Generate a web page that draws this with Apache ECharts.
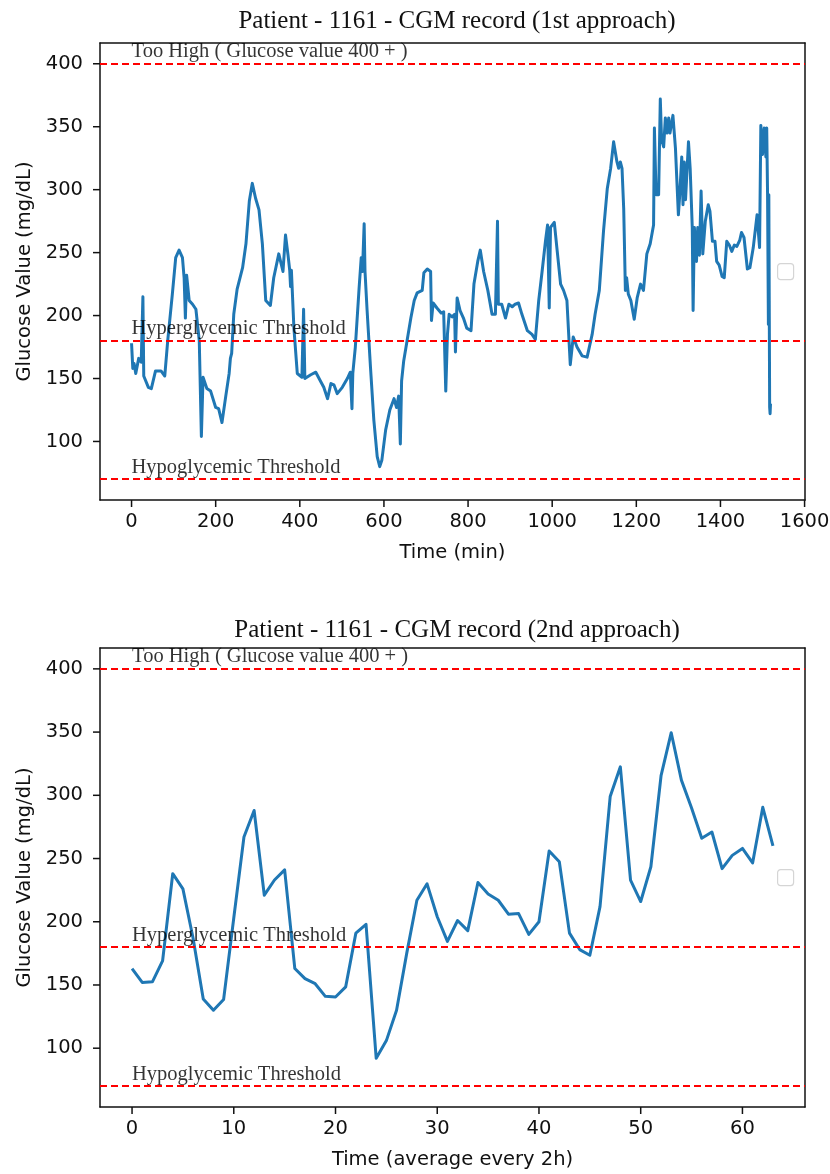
<!DOCTYPE html>
<html>
<head>
<meta charset="utf-8">
<script src="https://cdn.jsdelivr.net/npm/echarts@6/dist/echarts.min.js"></script>
<style>
  html, body { margin: 0; padding: 0; background: #fff; }
  #chart { width: 830px; height: 1174px; }
</style>
</head>
<body>
<div id="chart"></div>
<script>
// 1st approach: raw CGM readings (time in minutes)
const cgmTime = [
  0, 3, 6, 10, 17, 23, 27, 29, 40, 47, 57, 70, 79, 86, 97, 105, 113, 121, 125, 128,
  131, 137, 145, 153, 161, 166, 170, 179, 188, 200, 207, 215, 224, 232, 235, 238, 243, 251, 264, 272,
  280, 287, 295, 303, 311, 319, 330, 338, 350, 360, 366, 372, 376, 378, 380, 386, 394, 405, 409, 412,
  426, 438, 449, 457, 466, 474, 481, 489, 501, 513, 520, 524, 526, 532, 541, 546, 549, 553, 555, 560,
  568, 576, 584, 590, 595, 604, 614, 624, 630, 635, 639, 642, 647, 655, 664, 672, 679, 691, 695, 703,
  711, 713, 717, 726, 736, 742, 747, 751, 755, 762, 768, 770, 774, 781, 789, 797, 807, 814, 818, 823,
  829, 837, 847, 857, 865, 870, 872, 880, 889, 897, 905, 912, 920, 928, 941, 952, 960, 968, 976, 984,
  989, 993, 996, 1005, 1012, 1020, 1027, 1035, 1043, 1050, 1059, 1071, 1083, 1095, 1102, 1112, 1122, 1131, 1139, 1146,
  1154, 1158, 1162, 1166, 1170, 1174, 1177, 1181, 1187, 1195, 1202, 1210, 1217, 1225, 1233, 1241, 1243, 1247, 1253, 1257,
  1260, 1265, 1269, 1273, 1277, 1280, 1287, 1293, 1300, 1303, 1308, 1311, 1314, 1317, 1324, 1328, 1333, 1335, 1338, 1343,
  1346, 1350, 1354, 1358, 1364, 1371, 1375, 1381, 1387, 1391, 1397, 1404, 1409, 1415, 1421, 1427, 1433, 1439, 1446, 1450,
  1456, 1464, 1470, 1478, 1487, 1490, 1493, 1496, 1500, 1504, 1508, 1510, 1512, 1514, 1515, 1517, 1518, 1519
];
const cgmGlucose = [
  178, 158, 162, 154, 166, 163, 215, 152, 143, 142, 156, 156, 152, 180, 217, 246, 252, 246, 230, 198,
  232, 212, 209, 205, 180, 104, 151, 142, 140, 127, 126, 115, 136, 154, 166, 170, 201, 221, 238, 257,
  291, 305, 293, 284, 257, 212, 208, 230, 249, 235, 264, 248, 236, 223, 236, 190, 154, 151, 205, 150,
  153, 155, 148, 143, 134, 146, 145, 138, 143, 150, 155, 126, 154, 175, 222, 246, 235, 273, 235, 204,
  159, 117, 88, 80, 85, 109, 125, 134, 127, 136, 98, 148, 164, 180, 198, 212, 218, 220, 234, 237,
  235, 196, 210, 206, 202, 203, 140, 185, 201, 199, 201, 171, 214, 204, 198, 190, 188, 225, 225, 243,
  252, 235, 220, 201, 201, 275, 209, 209, 198, 209, 207, 209, 210, 201, 188, 185, 181, 212, 235, 259,
  272, 206, 270, 274, 251, 225, 220, 212, 161, 183, 175, 168, 167, 185, 201, 220, 267, 301, 317, 338,
  322, 317, 322, 317, 285, 220, 230, 217, 212, 197, 214, 225, 220, 249, 257, 272, 349, 296, 296, 372,
  340, 334, 357, 345, 357, 345, 359, 333, 280, 295, 326, 288, 322, 292, 338, 317, 270, 204, 270, 243,
  270, 248, 299, 249, 275, 288, 283, 259, 259, 243, 240, 231, 230, 259, 256, 251, 256, 255, 260, 266,
  262, 237, 238, 254, 280, 280, 254, 351, 328, 349, 326, 349, 296, 193, 296, 127, 122, 130
];

// 2nd approach: average every 2h
const avgGlucose = [
  163, 152, 152.5, 169, 238, 226, 187, 139, 130, 138.5, 203, 267, 288, 221, 233, 241,
  163, 155, 151, 141, 140.5, 148.5, 191, 198, 92, 106, 130, 175, 217, 230, 204, 184.5,
  201, 193, 231, 222, 217, 206, 206.5, 190, 200, 256, 247.5, 191, 178, 173.5, 212, 299,
  322.5, 233, 216, 243.5, 315.5, 349.5, 312, 290, 266, 271, 242, 252.5, 258, 246.5, 290.5, 260
];

const thresholds = [400, 180, 70];
const thresholdLabels = ['Too High ( Glucose value 400 + )', 'Hyperglycemic Threshold', 'Hypoglycemic Threshold'];
const thresholdTextY = [405, 185, 75];
const yTicks = [100, 150, 200, 250, 300, 350, 400];
const xTicksTop = [0, 200, 400, 600, 800, 1000, 1200, 1400, 1600];
const xTicksBottom = [0, 10, 20, 30, 40, 50, 60];

const titles = ['Patient - 1161 - CGM record (1st approach)', 'Patient - 1161 - CGM record (2nd approach)'];
const xNames = ['Time (min)', 'Time (average every 2h)'];

const blue = '#1f77b4';
const ink = '#111';
const sans = 'DejaVu Sans';
const serif = 'Liberation Serif';
const yMin = 53.5;
const yMax = 416.5;
const xRanges = [[-75, 1601], [-3.15, 66.15]];
const xTickSets = [xTicksTop, xTicksBottom];

const myChart = echarts.init(document.getElementById('chart'));

const spine = { show: true, onZero: false, lineStyle: { color: ink, width: 1.5 } };
const hidden = { show: false };

const makeXAxis = (idx) => ({
  type: 'value',
  gridIndex: idx,
  position: 'bottom',
  min: xRanges[idx][0],
  max: xRanges[idx][1],
  name: xNames[idx],
  nameLocation: 'middle',
  nameGap: 43,
  nameTextStyle: { fontFamily: sans, fontSize: 19.5, color: ink },
  axisLine: spine,
  splitLine: hidden,
  axisTick: hidden,
  axisLabel: {
    customValues: xTickSets[idx],
    margin: 12,
    fontFamily: sans,
    fontSize: 19.5,
    color: ink,
    formatter: (v) => String(v),
  },
});

const makeYAxis = (idx) => ({
  type: 'value',
  gridIndex: idx,
  position: 'left',
  min: yMin,
  max: yMax,
  name: 'Glucose Value (mg/dL)',
  nameLocation: 'middle',
  nameGap: 64,
  nameTextStyle: { fontFamily: sans, fontSize: 19.5, color: ink },
  axisLine: spine,
  splitLine: hidden,
  axisTick: hidden,
  axisLabel: { customValues: yTicks, margin: 17, fontFamily: sans, fontSize: 19.5, color: ink },
});

// top and right spines
const frameX = (idx) => ({
  type: 'value', gridIndex: idx, position: 'top', min: 0, max: 1,
  axisLine: spine, axisTick: hidden, axisLabel: hidden, splitLine: hidden,
});
const frameY = (idx) => ({
  type: 'value', gridIndex: idx, position: 'right', min: 0, max: 1,
  axisLine: spine, axisTick: hidden, axisLabel: hidden, splitLine: hidden,
});

const thresholdMarks = {
  silent: true,
  symbol: 'none',
  label: { show: false },
  lineStyle: { color: '#ff0000', type: [7, 4], width: 2 },
  data: thresholds.map((v) => ({ yAxis: v })),
};

const textSeries = (idx) => ({
  type: 'scatter',
  xAxisIndex: idx,
  yAxisIndex: idx,
  symbolSize: 0,
  silent: true,
  data: thresholdTextY.map((y, i) => ({ value: [0, y], name: thresholdLabels[i] })),
  label: {
    show: true,
    formatter: (p) => p.name,
    position: [0, 0],
    align: 'left',
    verticalAlign: 'bottom',
    offset: [0, 5],
    fontFamily: serif,
    fontSize: 20.5,
    color: '#000',
  },
});

const legendBox = (top) => ({
  type: 'rect',
  left: 777,
  top: top,
  shape: { width: 16, height: 16, r: 3 },
  style: { fill: '#fff', stroke: '#d5d5d5', lineWidth: 1.2 },
});

// the last x label sits on the right spine and runs a little past it; leave room for it
const gridBase = {
  left: 100,
  right: 25,
  show: false,
  outerBounds: { left: 0, right: -40, top: 0, bottom: 0 },
};

const option = {
  animation: false,
  backgroundColor: '#fff',
  title: [
    { text: titles[0], left: 452, top: 4, textAlign: 'center',
      textStyle: { fontFamily: serif, fontSize: 25, fontWeight: 'normal', color: ink } },
    { text: titles[1], left: 452, top: 613, textAlign: 'center',
      textStyle: { fontFamily: serif, fontSize: 25, fontWeight: 'normal', color: ink } },
  ],
  grid: [
    Object.assign({}, gridBase, { top: 43, height: 457 }),
    Object.assign({}, gridBase, { top: 648, height: 459 }),
  ],
  xAxis: [makeXAxis(0), makeXAxis(1), frameX(0), frameX(1)],
  yAxis: [makeYAxis(0), makeYAxis(1), frameY(0), frameY(1)],
  series: [
    {
      type: 'line',
      xAxisIndex: 0,
      yAxisIndex: 0,
      data: cgmTime.map((t, i) => [t, cgmGlucose[i]]),
      showSymbol: false,
      lineStyle: { color: blue, width: 3, join: 'round' },
      markLine: thresholdMarks,
      z: 2,
    },
    {
      type: 'line',
      xAxisIndex: 1,
      yAxisIndex: 1,
      data: avgGlucose.map((v, i) => [i, v]),
      showSymbol: false,
      lineStyle: { color: blue, width: 3, join: 'round' },
      markLine: thresholdMarks,
      z: 2,
    },
    textSeries(0),
    textSeries(1),
  ],
  graphic: [legendBox(263), legendBox(869)],
};

myChart.setOption(option, true);

// outward tick marks, positioned through each plot's own scales
const tickGraphics = [];
[0, 1].forEach((idx) => {
  const finder = { xAxisIndex: idx, yAxisIndex: idx };
  yTicks.forEach((v) => {
    const p = myChart.convertToPixel(finder, [xRanges[idx][0], v]);
    tickGraphics.push({
      type: 'line', silent: true, z: 10,
      shape: { x1: p[0] - 7, y1: p[1], x2: p[0], y2: p[1] },
      style: { stroke: ink, lineWidth: 1.5 },
    });
  });
  xTickSets[idx].forEach((t) => {
    const p = myChart.convertToPixel(finder, [t, yMin]);
    tickGraphics.push({
      type: 'line', silent: true, z: 10,
      shape: { x1: p[0], y1: p[1], x2: p[0], y2: p[1] + 7 },
      style: { stroke: ink, lineWidth: 1.5 },
    });
  });
});
myChart.setOption({ graphic: [legendBox(263), legendBox(869)].concat(tickGraphics) });

window.addEventListener('resize', () => {
  myChart.resize();
});
</script>
</body>
</html>
